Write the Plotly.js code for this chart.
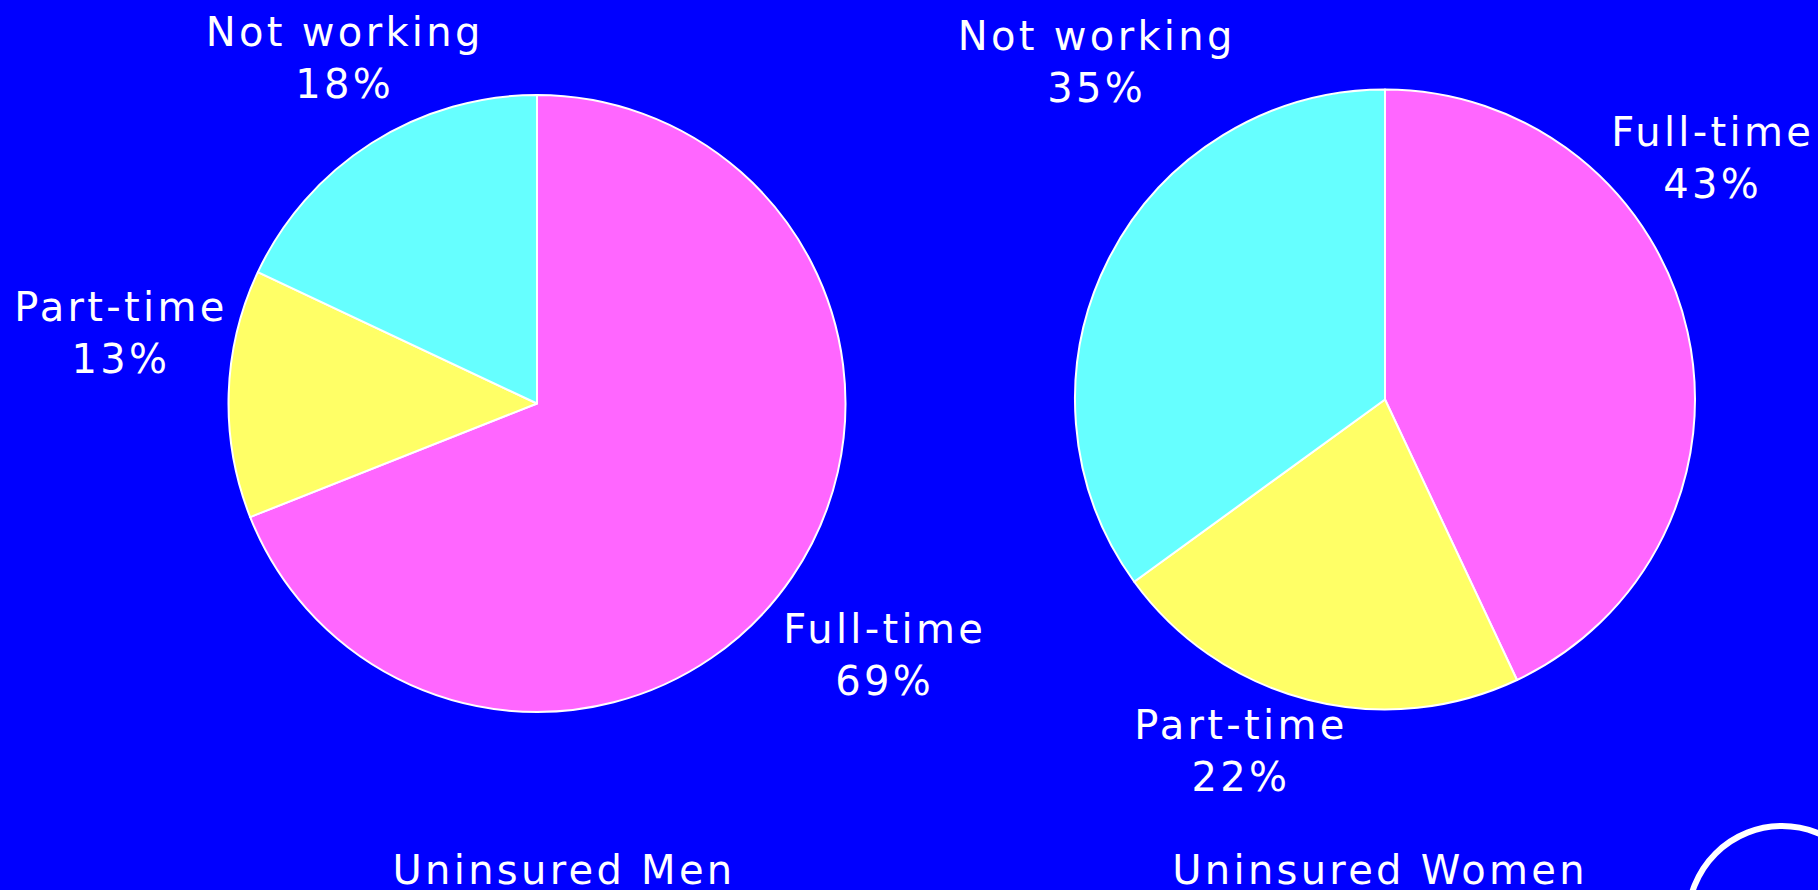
<!DOCTYPE html>
<html>
<head>
<meta charset="utf-8">
<script src="https://cdn.plot.ly/plotly-3.0.1.min.js"></script>
<style>
  html, body { margin: 0; padding: 0; background: #0000ff; }
  #chart { width: 1818px; height: 890px; }
  #chart text { letter-spacing: 3.3px; }
</style>
</head>
<body>
<div id="chart"></div>
<script>
const categories = ["Full-time", "Part-time", "Not working"];
const menValues = [69, 13, 18];
const womenValues = [43, 22, 35];
const sliceColors = ["#ff66ff", "#ffff66", "#66ffff"];
const chartTitles = ["Uninsured Men", "Uninsured Women"];

const W = 1818, H = 890;
function dom(cx, cy, r) {
  return {
    x: [(cx - r * 1.2) / W, (cx + r * 1.2) / W],
    y: [1 - (cy + r) / H, 1 - (cy - r) / H]
  };
}

const common = {
  type: "pie",
  labels: categories,
  sort: false,
  direction: "clockwise",
  rotation: 0,
  textinfo: "none",
  hoverinfo: "label+percent",
  marker: { colors: sliceColors, line: { color: "#ffffff", width: 2 } },
  showlegend: false
};

const data = [
  Object.assign({}, common, { values: menValues, name: chartTitles[0], domain: dom(537, 403.5, 308.5) }),
  Object.assign({}, common, { values: womenValues, name: chartTitles[1], domain: dom(1385, 399.5, 310) })
];

// outside-label placement (pixel centres), one per slice, in the order of categories
const labelPlacement = [
  [[884, 655], [121, 333], [344, 58]],
  [[1712, 158], [1241, 751], [1096, 62]]
];

function pctText(vals, i) {
  const s = vals.reduce((a, b) => a + b, 0);
  return Math.round(vals[i] / s * 100) + "%";
}

const annotations = [];
[menValues, womenValues].forEach((vals, p) => {
  categories.forEach((c, i) => {
    const pos = labelPlacement[p][i];
    annotations.push({
      text: c + "<br>" + pctText(vals, i),
      x: pos[0] / W, y: 1 - pos[1] / H, xref: "paper", yref: "paper",
      xanchor: "center", yanchor: "middle", showarrow: false,
      font: { size: 40, color: "#ffffff" }
    });
  });
});
annotations.push(
  { text: chartTitles[0], x: 564 / W, y: 1 - 870 / H, xref: "paper", yref: "paper",
    xanchor: "center", yanchor: "middle", showarrow: false, font: { size: 40, color: "#ffffff" } },
  { text: chartTitles[1], x: 1380 / W, y: 1 - 870 / H, xref: "paper", yref: "paper",
    xanchor: "center", yanchor: "middle", showarrow: false, font: { size: 40, color: "#ffffff" } }
);

const layout = {
  width: W, height: H,
  margin: { l: 0, r: 0, t: 0, b: 0 },
  paper_bgcolor: "#0000ff",
  plot_bgcolor: "#0000ff",
  font: { family: "DejaVu Sans", color: "#ffffff", size: 40 },
  annotations: annotations,
  shapes: [
    { type: "circle", xref: "paper", yref: "paper",
      x0: (1782 - 94) / W, x1: (1782 + 94) / W,
      y0: 1 - (920 + 94) / H, y1: 1 - (920 - 94) / H,
      line: { color: "#ffffff", width: 6 }, fillcolor: "rgba(0,0,0,0)" }
  ]
};

Plotly.newPlot("chart", data, layout, { displayModeBar: false });
</script>
</body>
</html>
